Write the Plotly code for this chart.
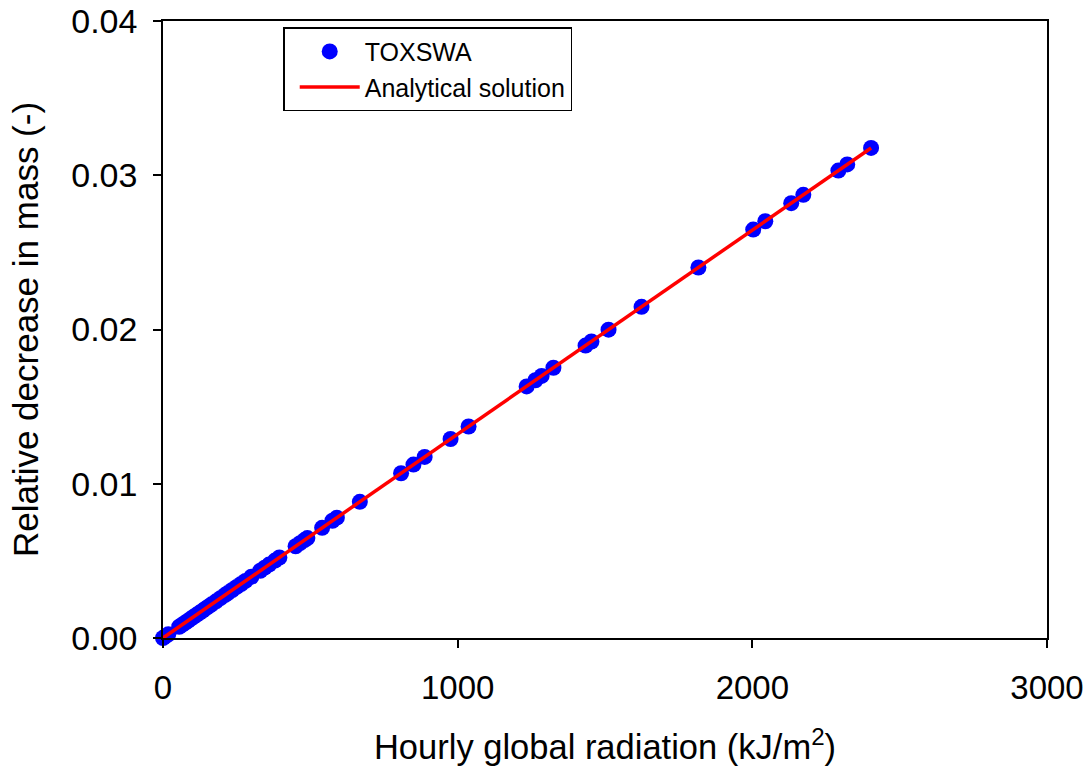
import plotly.graph_objects as go

# TOXSWA simulated points (hourly global radiation kJ/m2, relative decrease in mass)
toxswa_x = [0, 8, 18, 55, 65, 75, 85, 95, 105, 115, 125, 135, 145, 155, 165, 180, 195,
            210, 220, 235, 250, 265, 280, 300, 330, 345, 360, 380, 395, 450, 465, 480,
            490, 540, 575, 590, 668, 808, 850, 888, 976, 1037, 1234, 1264, 1285, 1325,
            1434, 1454, 1512, 1624, 1817, 2003, 2044, 2132, 2173, 2292, 2322, 2403]
toxswa_y = [0, 0.00011, 0.00024, 0.00073, 0.00086, 0.00099, 0.00112, 0.00126, 0.00139,
            0.00152, 0.00165, 0.00178, 0.00192, 0.00205, 0.00218, 0.00238, 0.00258,
            0.00278, 0.00291, 0.00311, 0.00331, 0.00350, 0.00370, 0.00397, 0.00436,
            0.00456, 0.00476, 0.00502, 0.00522, 0.00595, 0.00615, 0.00635, 0.00648,
            0.00714, 0.00760, 0.00780, 0.00883, 0.01068, 0.01124, 0.01174, 0.01290,
            0.01371, 0.01631, 0.01671, 0.01699, 0.01752, 0.01896, 0.01922, 0.01999,
            0.02147, 0.02402, 0.02648, 0.02702, 0.02819, 0.02873, 0.03030, 0.03070,
            0.03177]

# Analytical solution line
analytical_x = [0, 2403]
analytical_y = [0, 0.03177]

x_ticks = [0, 1000, 2000, 3000]
y_ticks = [0.00, 0.01, 0.02, 0.03, 0.04]
y_tick_labels = ["0.00", "0.01", "0.02", "0.03", "0.04"]

FONT = "Liberation Sans, Arial, sans-serif"

fig = go.Figure()
fig.add_trace(go.Scatter(
    x=toxswa_x, y=toxswa_y, mode="markers", name="TOXSWA",
    marker=dict(color="#0000FF", size=16, line=dict(width=0)),
    cliponaxis=False,
))
fig.add_trace(go.Scatter(
    x=analytical_x, y=analytical_y, mode="lines", name="Analytical solution",
    line=dict(color="#FF0000", width=3.5),
    cliponaxis=False,
))

fig.update_layout(
    width=1089, height=773,
    margin=dict(l=163, r=42, t=21, b=135, autoexpand=False),
    paper_bgcolor="white", plot_bgcolor="white",
    font=dict(family=FONT, color="black"),
    showlegend=True,
    legend=dict(
        x=0.136, y=0.99, xanchor="left", yanchor="top",
        bordercolor="black", borderwidth=1.5, bgcolor="white",
        font=dict(size=25, family=FONT),
        traceorder="normal", itemwidth=60, indentation=10,
    ),
    xaxis=dict(
        range=[0, 3000], tickvals=x_ticks, ticktext=[str(v) for v in x_ticks],
        showline=True, linecolor="black", linewidth=1.5, mirror=True,
        ticks="outside", ticklen=8, tickwidth=1.5, tickcolor="black",
        showgrid=False, zeroline=False, automargin=False,
        ticklabeloverflow="allow",
        tickfont=dict(size=33, family=FONT), ticklabelstandoff=12,
        title=dict(text="Hourly global radiation (kJ/m<sup>2</sup>)",
                   font=dict(size=34.5, family=FONT), standoff=30),
    ),
    yaxis=dict(
        range=[0, 0.04], tickvals=y_ticks, ticktext=y_tick_labels,
        showline=True, linecolor="black", linewidth=1.5, mirror=True,
        ticks="outside", ticklen=8, tickwidth=1.5, tickcolor="black",
        showgrid=False, zeroline=False, automargin=False,
        ticklabeloverflow="allow",
        tickfont=dict(size=34, family=FONT), ticklabelstandoff=9,
        title=dict(text="Relative decrease in mass (-)",
                   font=dict(size=35, family=FONT), standoff=22),
    ),
)

# remove the default 8px page margin so the figure sits at the window's corner
fig.write_html("out.html", config={"displayModeBar": False},
               post_script="document.body.style.margin='0px';")
